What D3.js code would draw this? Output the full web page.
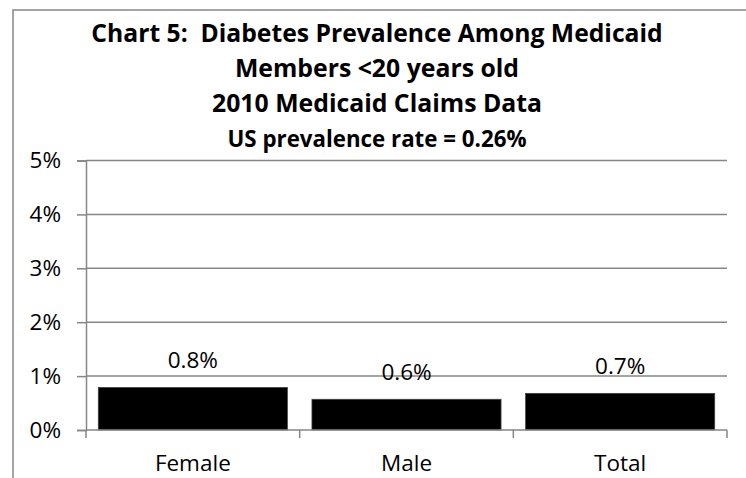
<!DOCTYPE html>
<html>
<head>
<meta charset="utf-8">
<script src="https://cdn.jsdelivr.net/npm/d3@7"></script>
<style>
  html, body { margin: 0; padding: 0; background: #fff; }
  svg { display: block; }
  text { font-family: "Open Sans", Lato, sans-serif; fill: #000; white-space: pre; }
</style>
</head>
<body>
<svg id="chart" width="746" height="478"></svg>
<script>
const categories = ["Female", "Male", "Total"];
const values = [0.79, 0.57, 0.68];
const valueLabels = ["0.8%", "0.6%", "0.7%"];
const yTicks = [0, 1, 2, 3, 4, 5];
const titleLines = [
  "Chart 5:  Diabetes Prevalence Among Medicaid",
  "Members <20 years old",
  "2010 Medicaid Claims Data",
  "US prevalence rate = 0.26%"
];

const svg = d3.select("#chart");
const W = 746, H = 478;
const gridColor = "#868686";
const FONT = "'Open Sans', Lato, sans-serif";

// outer chart frame (extends past right/bottom edges)
svg.append("rect")
  .attr("x", 13).attr("y", 10)
  .attr("width", W + 20).attr("height", H + 20)
  .attr("fill", "#fff")
  .attr("stroke", gridColor).attr("stroke-width", 1.5);

// title
const titleSizes = [24.7, 24.8, 24.8, 22.3];
const titleBase = [41.5, 76.5, 112, 147];
svg.append("g").selectAll("text").data(titleLines).join("text")
  .attr("x", 377)
  .attr("y", (d, i) => titleBase[i])
  .attr("text-anchor", "middle")
  .attr("font-weight", "bold")
  .attr("font-size", (d, i) => titleSizes[i])
  .text(d => d);

const plot = { left: 86, right: 727, top: 160.5, bottom: 430 };

const x = d3.scaleBand().domain(categories)
  .range([plot.left, plot.right])
  .paddingInner(0.115).paddingOuter(0.0575);
const xb = d3.scaleBand().domain(categories).range([plot.left, plot.right]);
const y = d3.scaleLinear().domain([0, 5]).range([plot.bottom, plot.top]);

// gridlines
svg.append("g").selectAll("line").data(yTicks.filter(t => t > 0)).join("line")
  .attr("x1", plot.left).attr("x2", plot.right)
  .attr("y1", d => y(d)).attr("y2", d => y(d))
  .attr("stroke", gridColor).attr("stroke-width", 1.5);

// y axis
const yAxis = svg.append("g")
  .attr("transform", `translate(${plot.left},0)`)
  .call(d3.axisLeft(y).tickValues(yTicks).tickSize(9).tickPadding(16)
    .tickFormat(d => d + "%"));
yAxis.select(".domain").attr("stroke", gridColor).attr("stroke-width", 1.5);
yAxis.selectAll(".tick line").attr("stroke", gridColor).attr("stroke-width", 1.5);
yAxis.selectAll(".tick text")
  .attr("font-family", FONT)
  .attr("font-size", 22.5).attr("fill", "#000");

// bars
svg.append("g").selectAll("rect").data(values).join("rect")
  .attr("x", (d, i) => x(categories[i]))
  .attr("width", x.bandwidth())
  .attr("y", d => y(d))
  .attr("height", d => y(0) - y(d))
  .attr("fill", "#000")
  .attr("stroke", "#404040").attr("stroke-width", 0.75);

// value labels
svg.append("g").selectAll("text").data(values).join("text")
  .attr("x", (d, i) => x(categories[i]) + x.bandwidth() / 2)
  .attr("y", d => y(d) - 19)
  .attr("text-anchor", "middle")
  .attr("font-size", 22.5)
  .text((d, i) => valueLabels[i]);

// x axis
const xAxisG = svg.append("g").attr("transform", `translate(0,${plot.bottom})`);
xAxisG.append("line")
  .attr("x1", plot.left).attr("x2", plot.right)
  .attr("stroke", gridColor).attr("stroke-width", 1.5);
const bounds = categories.map(c => xb(c)).concat([xb(categories[categories.length - 1]) + xb.bandwidth()]);
xAxisG.selectAll("line.tk").data(bounds).join("line")
  .attr("class", "tk")
  .attr("x1", d => d).attr("x2", d => d)
  .attr("y1", 0).attr("y2", 8)
  .attr("stroke", gridColor).attr("stroke-width", 1.5);
xAxisG.selectAll("text").data(categories).join("text")
  .attr("x", d => xb(d) + xb.bandwidth() / 2)
  .attr("y", 40.8)
  .attr("text-anchor", "middle")
  .attr("font-size", 22.5)
  .text(d => d);
</script>
</body>
</html>
